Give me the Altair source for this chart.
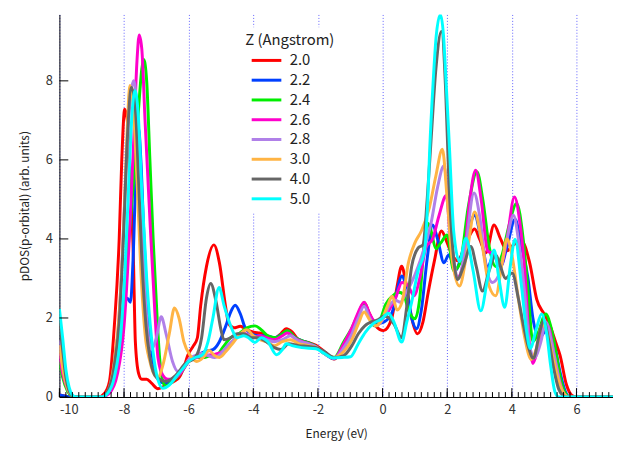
import altair as alt
import pandas as pd

Z_LABELS = ["2.0", "2.2", "2.4", "2.6", "2.8", "3.0", "4.0", "5.0"]
COLORS = ["#ff0000", "#0040ff", "#00ee00", "#ff00cc", "#b080e8", "#ffb444", "#666666", "#00ffff"]

z20 = [(-10,0.05),(-9.8,0.02),(-9.6,0),(-8.8,0),(-8.6,0.1),(-8.45,0.4),(-8.3,1.8),(-8.15,4.0),(-8.07,6.0),(-7.98,7.28),(-7.9,7.0),(-7.8,5.5),(-7.71,3.5),(-7.65,1.4),(-7.55,0.6),(-7.45,0.45),(-7.3,0.45),(-7.15,0.35),(-6.95,0.21),(-6.7,0.3),(-6.45,0.4),(-6.29,0.5),(-6.13,0.8),(-6.03,1.05),(-5.85,1.3),(-5.73,1.5),(-5.63,2.3),(-5.45,3.3),(-5.22,3.85),(-5.05,3.4),(-4.86,2.3),(-4.76,1.85),(-4.6,1.75),(-4.4,1.79),(-4.2,1.7),(-3.99,1.64),(-3.8,1.62),(-3.68,1.6),(-3.5,1.5),(-3.33,1.5),(-3.15,1.6),(-2.98,1.73),(-2.8,1.65),(-2.6,1.45),(-2.3,1.38),(-2.06,1.31),(-1.8,1.15),(-1.5,0.96),(-1.25,1.2),(-0.94,1.64),(-0.75,2.1),(-0.57,2.39),(-0.4,2.1),(-0.22,1.81),(0.03,1.68),(0.28,1.98),(0.45,2.8),(0.59,3.31),(0.72,2.9),(0.9,2.0),(1.08,1.6),(1.25,1.9),(1.41,2.64),(1.61,3.47),(1.82,4.2),(2.0,3.9),(2.15,3.6),(2.32,3.45),(2.5,3.7),(2.7,4.1),(2.85,4.25),(3.0,4.0),(3.2,3.65),(3.45,4.35),(3.65,4.0),(3.85,3.7),(4.05,3.85),(4.3,3.95),(4.55,3.4),(4.77,2.47),(5.0,2.1),(5.18,1.81),(5.35,1.4),(5.49,1.06),(5.69,0.31),(5.85,0.05),(6.0,0),(7.2,0)]

z22 = [(-10,0.05),(-9.8,0.02),(-9.6,0),(-8.7,0),(-8.5,0.15),(-8.35,0.6),(-8.2,1.5),(-8.05,2.2),(-7.9,2.5),(-7.8,2.4),(-7.72,3.5),(-7.62,6.0),(-7.55,6.8),(-7.48,6.0),(-7.38,4.0),(-7.25,2.0),(-7.1,0.9),(-6.95,0.45),(-6.75,0.35),(-6.5,0.45),(-6.2,0.7),(-6.0,0.9),(-5.75,1.05),(-5.5,1.15),(-5.25,1.2),(-5.05,1.4),(-4.85,1.8),(-4.7,2.15),(-4.56,2.32),(-4.4,2.1),(-4.25,1.75),(-4.05,1.6),(-3.85,1.55),(-3.6,1.55),(-3.35,1.5),(-3.1,1.6),(-2.95,1.67),(-2.7,1.5),(-2.4,1.4),(-2.1,1.3),(-1.8,1.1),(-1.5,0.97),(-1.2,1.3),(-0.95,1.65),(-0.75,2.05),(-0.57,2.35),(-0.4,2.05),(-0.2,1.85),(0.05,1.9),(0.3,2.15),(0.45,2.7),(0.59,3.06),(0.75,2.7),(0.9,2.0),(1.05,1.73),(1.2,2.2),(1.38,3.5),(1.55,4.35),(1.7,4.0),(1.9,3.4),(2.05,3.6),(2.25,3.2),(2.45,3.6),(2.65,4.2),(2.85,4.6),(3.05,4.0),(3.25,3.3),(3.45,3.6),(3.65,3.3),(3.85,3.8),(4.1,4.5),(4.3,3.8),(4.5,3.0),(4.65,2.0),(4.85,1.5),(5.05,1.7),(5.15,1.8),(5.35,1.2),(5.5,0.6),(5.65,0.15),(5.8,0),(7.2,0)]

z24 = [(-10,0.9),(-9.9,0.5),(-9.75,0.15),(-9.6,0.02),(-9.5,0),(-8.7,0),(-8.5,0.1),(-8.3,0.5),(-8.15,1.2),(-8.0,2.5),(-7.85,4.0),(-7.7,5.5),(-7.55,7.3),(-7.45,8.3),(-7.39,8.54),(-7.3,8.0),(-7.2,6.0),(-7.1,4.0),(-6.98,2.06),(-6.9,1.0),(-6.8,0.4),(-6.7,0.28),(-6.5,0.4),(-6.25,0.6),(-6.0,0.9),(-5.8,1.0),(-5.5,1.0),(-5.3,1.05),(-5.17,1.03),(-4.95,1.25),(-4.7,1.5),(-4.45,1.6),(-4.2,1.75),(-3.95,1.8),(-3.75,1.7),(-3.55,1.55),(-3.3,1.5),(-3.1,1.6),(-2.95,1.68),(-2.7,1.5),(-2.4,1.4),(-2.1,1.3),(-1.8,1.1),(-1.5,1.0),(-1.2,1.4),(-0.95,1.75),(-0.75,2.1),(-0.57,2.35),(-0.4,2.0),(-0.25,1.8),(-0.1,1.9),(0.1,2.35),(0.3,2.55),(0.5,2.65),(0.65,2.6),(0.8,2.2),(1.0,1.98),(1.15,2.5),(1.3,4.0),(1.4,4.4),(1.5,4.2),(1.65,3.75),(1.8,3.9),(2.0,4.1),(2.2,3.2),(2.4,3.4),(2.65,4.8),(2.92,5.7),(3.1,5.0),(3.3,3.8),(3.5,3.3),(3.7,3.6),(3.9,4.3),(4.15,4.9),(4.35,4.0),(4.5,2.7),(4.65,1.4),(4.8,1.6),(5.05,2.1),(5.2,1.8),(5.35,1.2),(5.5,0.5),(5.65,0.1),(5.8,0),(7.2,0)]

z26 = [(-10,1.1),(-9.9,0.6),(-9.75,0.2),(-9.6,0.03),(-9.5,0),(-8.7,0),(-8.45,0.1),(-8.2,0.6),(-8.0,1.8),(-7.85,3.8),(-7.7,6.5),(-7.6,8.5),(-7.53,9.16),(-7.45,8.8),(-7.35,7.0),(-7.2,4.5),(-7.05,2.2),(-6.95,1.0),(-6.8,0.55),(-6.65,0.45),(-6.5,0.45),(-6.25,0.6),(-6.0,0.9),(-5.75,1.0),(-5.5,1.05),(-5.2,1.08),(-4.95,1.15),(-4.7,1.35),(-4.45,1.55),(-4.25,1.6),(-4.0,1.5),(-3.8,1.55),(-3.6,1.5),(-3.35,1.45),(-3.1,1.55),(-2.95,1.62),(-2.7,1.48),(-2.4,1.38),(-2.1,1.28),(-1.8,1.1),(-1.5,0.98),(-1.2,1.35),(-0.95,1.75),(-0.75,2.15),(-0.57,2.4),(-0.4,2.1),(-0.22,1.9),(0.0,2.0),(0.2,2.2),(0.4,2.5),(0.6,2.9),(0.8,2.8),(0.97,2.56),(1.15,3.0),(1.35,3.8),(1.55,4.0),(1.75,4.6),(1.97,5.1),(2.1,4.0),(2.3,3.0),(2.5,3.4),(2.7,5.0),(2.88,5.74),(3.05,5.0),(3.25,3.7),(3.45,3.6),(3.65,3.3),(3.85,4.0),(4.08,5.06),(4.25,4.4),(4.4,3.2),(4.55,1.3),(4.65,0.85),(4.8,1.2),(5.0,1.9),(5.15,1.75),(5.3,1.1),(5.45,0.5),(5.6,0.1),(5.75,0),(7.2,0)]

z28 = [(-10,1.43),(-9.9,0.8),(-9.75,0.25),(-9.6,0.04),(-9.5,0),(-8.7,0),(-8.45,0.2),(-8.25,1.0),(-8.1,2.8),(-7.95,5.5),(-7.8,7.6),(-7.7,8.0),(-7.6,7.3),(-7.5,5.5),(-7.4,3.5),(-7.28,1.8),(-7.15,1.2),(-7.0,1.5),(-6.85,2.03),(-6.7,1.6),(-6.5,0.9),(-6.34,0.65),(-6.15,0.75),(-6.0,0.95),(-5.8,1.05),(-5.6,1.1),(-5.4,1.05),(-5.2,1.0),(-5.0,1.1),(-4.8,1.3),(-4.6,1.45),(-4.35,1.6),(-4.1,1.55),(-3.85,1.5),(-3.6,1.45),(-3.35,1.4),(-3.1,1.45),(-2.85,1.55),(-2.6,1.42),(-2.3,1.35),(-2.05,1.27),(-1.8,1.1),(-1.5,0.98),(-1.2,1.25),(-0.95,1.6),(-0.75,2.0),(-0.57,2.3),(-0.4,2.0),(-0.22,1.8),(0.0,1.95),(0.2,2.3),(0.4,2.45),(0.55,2.4),(0.7,2.6),(0.9,2.9),(1.1,3.3),(1.3,3.8),(1.5,4.4),(1.7,5.3),(1.9,5.85),(2.05,4.8),(2.2,3.5),(2.35,3.0),(2.55,3.7),(2.83,5.16),(3.0,4.6),(3.2,3.3),(3.4,2.9),(3.6,3.1),(3.85,4.0),(4.05,4.6),(4.2,4.0),(4.4,2.6),(4.55,1.3),(4.7,1.0),(4.9,1.4),(5.05,1.9),(5.2,1.5),(5.35,0.9),(5.5,0.3),(5.65,0.05),(5.8,0),(7.2,0)]

z30 = [(-10,1.31),(-9.9,0.75),(-9.75,0.22),(-9.6,0.03),(-9.5,0),(-8.7,0),(-8.5,0.15),(-8.3,0.9),(-8.16,2.0),(-8.0,4.5),(-7.9,6.8),(-7.82,7.88),(-7.72,7.4),(-7.6,5.5),(-7.48,3.2),(-7.35,1.6),(-7.2,0.9),(-7.05,0.55),(-6.95,0.5),(-6.8,0.8),(-6.6,1.6),(-6.44,2.25),(-6.3,2.0),(-6.15,1.4),(-5.95,1.05),(-5.75,0.9),(-5.55,1.0),(-5.37,1.18),(-5.2,1.05),(-5.05,1.0),(-4.85,1.15),(-4.6,1.4),(-4.4,1.6),(-4.2,1.7),(-4.0,1.55),(-3.8,1.45),(-3.6,1.4),(-3.35,1.3),(-3.1,1.4),(-2.85,1.45),(-2.6,1.35),(-2.3,1.3),(-2.05,1.25),(-1.8,1.1),(-1.5,1.0),(-1.2,1.15),(-0.95,1.45),(-0.75,1.85),(-0.57,2.15),(-0.4,1.95),(-0.2,1.8),(0.0,2.0),(0.15,2.3),(0.3,2.55),(0.45,2.2),(0.6,2.4),(0.8,3.4),(1.0,3.9),(1.2,4.2),(1.45,4.8),(1.65,5.6),(1.85,6.27),(2.0,5.0),(2.15,3.5),(2.38,2.81),(2.6,3.6),(2.85,4.68),(3.05,4.0),(3.3,2.8),(3.5,2.56),(3.7,3.4),(3.85,4.0),(4.0,3.6),(4.2,2.5),(4.4,1.5),(4.6,0.95),(4.75,1.2),(4.95,1.85),(5.1,1.6),(5.3,0.9),(5.45,0.4),(5.6,0.1),(5.75,0),(7.2,0)]

z40 = [(-10,1.9),(-9.9,1.2),(-9.8,0.5),(-9.7,0.15),(-9.6,0.03),(-9.5,0),(-8.7,0),(-8.5,0.15),(-8.3,0.8),(-8.15,1.9),(-8.02,4.0),(-7.9,6.5),(-7.77,7.83),(-7.65,7.3),(-7.55,5.5),(-7.45,3.5),(-7.32,1.8),(-7.2,1.0),(-7.0,0.5),(-6.7,0.4),(-6.4,0.55),(-6.1,0.85),(-5.8,1.0),(-5.6,1.5),(-5.45,2.5),(-5.32,2.87),(-5.15,2.4),(-5.0,1.7),(-4.91,1.45),(-4.7,1.5),(-4.5,1.6),(-4.3,1.6),(-4.05,1.5),(-3.85,1.5),(-3.6,1.4),(-3.35,1.25),(-3.15,1.2),(-2.9,1.35),(-2.6,1.3),(-2.3,1.28),(-2.05,1.25),(-1.8,1.15),(-1.5,1.0),(-1.2,1.05),(-0.95,1.3),(-0.75,1.6),(-0.55,1.8),(-0.35,1.9),(-0.15,1.95),(0.05,2.05),(0.2,2.0),(0.35,1.85),(0.59,1.5),(0.75,2.3),(0.9,3.3),(1.1,3.77),(1.25,3.85),(1.38,5.0),(1.5,6.5),(1.65,8.3),(1.82,9.25),(1.95,7.8),(2.05,5.5),(2.2,3.5),(2.32,2.97),(2.5,3.3),(2.73,3.81),(2.9,3.3),(3.09,2.68),(3.3,3.2),(3.5,3.6),(3.65,3.3),(3.8,3.0),(4.01,3.14),(4.2,2.5),(4.36,1.81),(4.5,1.3),(4.67,0.98),(4.85,1.6),(4.98,1.93),(5.15,1.4),(5.3,0.7),(5.45,0.2),(5.6,0.03),(5.7,0),(7.2,0)]

z50 = [(-10,2.23),(-9.9,1.5),(-9.8,0.7),(-9.7,0.25),(-9.6,0.05),(-9.5,0),(-8.7,0),(-8.5,0.1),(-8.3,0.5),(-8.1,1.6),(-7.97,3.2),(-7.85,5.5),(-7.75,7.2),(-7.66,7.75),(-7.55,7.0),(-7.45,5.2),(-7.3,3.0),(-7.15,1.5),(-7.0,0.6),(-6.8,0.22),(-6.6,0.3),(-6.4,0.5),(-6.2,0.7),(-6.0,0.9),(-5.8,1.0),(-5.6,1.05),(-5.4,1.4),(-5.25,2.0),(-5.06,2.77),(-4.9,2.3),(-4.7,1.8),(-4.5,1.5),(-4.3,1.55),(-4.15,1.5),(-3.95,1.38),(-3.75,1.5),(-3.55,1.4),(-3.28,1.07),(-3.1,1.2),(-2.98,1.35),(-2.8,1.3),(-2.5,1.25),(-2.06,1.22),(-1.8,1.1),(-1.55,0.99),(-1.25,1.0),(-0.99,1.02),(-0.75,1.35),(-0.53,1.64),(-0.3,1.85),(-0.02,1.98),(0.18,2.12),(0.35,1.9),(0.59,1.39),(0.75,1.9),(0.9,2.4),(1.1,3.2),(1.3,3.7),(1.4,5.0),(1.46,6.3),(1.56,7.9),(1.66,9.14),(1.79,9.68),(1.88,9.2),(1.97,7.9),(2.07,6.3),(2.2,4.2),(2.38,3.43),(2.58,4.02),(2.8,3.2),(3.04,2.18),(3.25,3.0),(3.45,3.72),(3.6,3.0),(3.78,2.27),(3.95,3.3),(4.1,3.99),(4.3,2.8),(4.45,1.7),(4.57,1.23),(4.75,1.7),(4.92,2.1),(5.08,1.6),(5.2,0.8),(5.33,0.14),(5.45,0),(7.2,0)]

SERIES = [z20, z22, z24, z26, z28, z30, z40, z50]

X_MAJOR = [-10, -8, -6, -4, -2, 0, 2, 4, 6]
X_MINOR = [round(-10 + 0.2 * i, 1) for i in range(86)]
Y_MAJOR = [0, 2, 4, 6, 8]

rows = []
for lab, pts in zip(Z_LABELS, SERIES):
    for e, v in pts:
        rows.append({"Z": lab, "E": e, "v": v})
df = pd.DataFrame(rows)

FONT = "Noto Sans CJK JP"
XDOM = [-10, 7.13]
YDOM = [0, 9.68]
W, H = 560, 387

xscale = alt.Scale(domain=XDOM, nice=False, zero=False)
yscale = alt.Scale(domain=YDOM, nice=False, zero=False)

xaxis = alt.Axis(
    values=X_MAJOR, title="Energy (eV)", grid=True, gridDash=[1, 2], gridColor="#6060ff",
    gridWidth=1, ticks=False, domain=True, labels=True, domainColor="black", domainWidth=1,
    labelExpr="datum.value + ''", labelFont=FONT, labelFontSize=13, labelColor="#333",
    labelPadding=7, titleFont=FONT, titleFontSize=12, titleFontWeight="normal",
    titleColor="#222", titlePadding=12)
yaxis = alt.Axis(
    values=Y_MAJOR, title="pDOS(p-orbital) (arb. units)", grid=False, ticks=False,
    domain=True, labels=True, domainColor="black", domainWidth=1, labelFont=FONT,
    labelFontSize=13, labelColor="#333", labelPadding=7, titleFont=FONT, titleFontSize=12,
    titleFontWeight="normal", titleColor="#222", titlePadding=14)

lines = alt.Chart(df).mark_line(strokeWidth=3, interpolate="monotone", clip=True).encode(
    x=alt.X("E:Q", scale=xscale, axis=xaxis),
    y=alt.Y("v:Q", scale=yscale, axis=yaxis),
    color=alt.Color("Z:N", sort=Z_LABELS, scale=alt.Scale(domain=Z_LABELS, range=COLORS),
                    legend=alt.Legend(
                        title="Z (Angstrom)", orient="none", legendX=182, legendY=13,
                        titleFont=FONT, titleFontSize=15, titleFontWeight="normal",
                        titleColor="#222", titlePadding=5, labelFont=FONT, labelFontSize=15,
                        labelColor="#222", symbolType="M-3,0H3", symbolSize=100,
                        symbolStrokeWidth=3, symbolOffset=14, labelOffset=16, rowPadding=4,
                        fillColor="white", padding=6)),
)

xminor = alt.Chart(pd.DataFrame({"E": X_MINOR})).mark_rule(color="black", strokeWidth=1).encode(
    x=alt.X("E:Q", scale=xscale), y=alt.value(H), y2=alt.value(H - 5))
xmajor = alt.Chart(pd.DataFrame({"E": X_MAJOR})).mark_rule(color="black", strokeWidth=1).encode(
    x=alt.X("E:Q", scale=xscale), y=alt.value(H), y2=alt.value(H - 9))
ymajor = alt.Chart(pd.DataFrame({"v": Y_MAJOR})).mark_rule(color="black", strokeWidth=1).encode(
    y=alt.Y("v:Q", scale=yscale), x=alt.value(0), x2=alt.value(9))

chart = alt.layer(lines, xminor, xmajor, ymajor).properties(
    width=W, height=H, autosize=alt.AutoSizeParams(type="none"),
    padding={"left": 52, "top": 4, "right": 0, "bottom": 45},
    view=alt.ViewBackground(stroke="transparent", strokeWidth=0),
).configure(background="white").configure_view(
    stroke="transparent", strokeWidth=0
).configure_axis(
    domain=False, ticks=False, labels=False, grid=False, titleColor="transparent"
)

chart.save("out.html", embed_options={"renderer": "svg", "actions": False})
